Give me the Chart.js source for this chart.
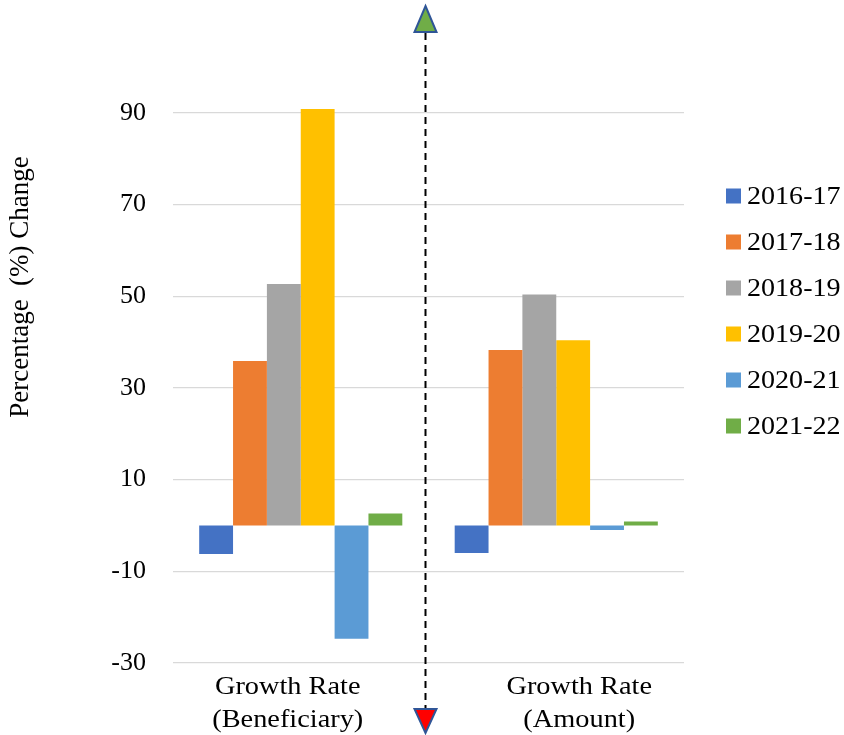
<!DOCTYPE html>
<html>
<head>
<meta charset="utf-8">
<script src="https://cdn.jsdelivr.net/npm/chart.js@4"></script>
<style>
  body { margin: 0; background: #fff; }
  #wrap { position: relative; width: 844px; height: 735px; }
</style>
</head>
<body>
<div id="wrap"><canvas id="myChart"></canvas></div>
<script>
// values
var categories = [['Growth Rate', '(Beneficiary)'], ['Growth Rate', '(Amount)']];
var years = ['2016-17', '2017-18', '2018-19', '2019-20', '2020-21', '2021-22'];
var v201617 = [-6.2, -6.0];
var v201718 = [35.9, 38.3];
var v201819 = [52.7, 50.4];
var v201920 = [90.9, 40.4];
var v202021 = [-24.7, -1.0];
var v202122 = [2.6, 0.9];
var yTicks = [-30, -10, 10, 30, 50, 70, 90];

var colors = ['#4472C4', '#ED7D31', '#A5A5A5', '#FFC000', '#5B9BD5', '#70AD47'];
var series = [v201617, v201718, v201819, v201920, v202021, v202122];
var serif = "'Liberation Serif', 'Times New Roman', serif";

// text in the original is a little wider than the font, so stretch it a bit
function wideText(c, txt, x, y, sx) {
    c.save();
    c.translate(x, y);
    c.scale(sx, 1);
    c.fillText(txt, 0, 0);
    c.restore();
}

var extras = {
    id: 'extras',
    afterDraw: function(chart) {
        var c = chart.ctx;
        var xs = chart.scales.x;
        var area = chart.chartArea;
        c.save();

        // x category labels (slightly off-centre like the original)
        var offs = [-13, 23];
        c.font = '26px ' + serif;
        c.fillStyle = '#000';
        c.textAlign = 'center';
        c.textBaseline = 'middle';
        categories.forEach(function(lab, i) {
            var x = xs.getPixelForValue(i) + offs[i];
            wideText(c, lab[0], x, area.bottom + 24, 1.09);
            wideText(c, lab[1], x, area.bottom + 57, 1.09);
        });

        // y axis title
        c.save();
        c.font = '27px ' + serif;
        c.translate(21, 287);
        c.rotate(-Math.PI / 2);
        c.fillText('Percentage  (%) Change', 0, 0);
        c.restore();

        // legend
        c.textAlign = 'left';
        chart.data.datasets.forEach(function(ds, i) {
            var y = 196 + i * 46;
            c.fillStyle = ds.backgroundColor;
            c.fillRect(726, y - 7.5, 15, 15);
            c.fillStyle = '#000';
            wideText(c, ds.label, 747, y + 1, 1.08);
        });

        // dashed divider with arrow heads
        var mx = (xs.getPixelForValue(0) + xs.getPixelForValue(1)) / 2 - 3;
        c.strokeStyle = '#000';
        c.lineWidth = 2;
        c.setLineDash([7, 5]);
        c.beginPath();
        c.moveTo(mx, 33);
        c.lineTo(mx, 709);
        c.stroke();
        c.setLineDash([]);

        c.lineWidth = 2;
        c.strokeStyle = '#2F5597';
        c.fillStyle = '#70AD47';
        c.beginPath();
        c.moveTo(mx, 6);
        c.lineTo(mx + 11, 32);
        c.lineTo(mx - 11, 32);
        c.closePath();
        c.fill();
        c.stroke();

        c.fillStyle = '#FF0000';
        c.beginPath();
        c.moveTo(mx - 11, 709);
        c.lineTo(mx + 11, 709);
        c.lineTo(mx, 733);
        c.closePath();
        c.fill();
        c.stroke();

        c.restore();
    }
};

document.addEventListener('DOMContentLoaded', function() {
    var ctx = document.getElementById('myChart').getContext('2d');

    var myChart = new Chart(ctx, {
        type: 'bar',
        data: {
            labels: categories,
            datasets: years.map(function(y, i) {
                return {
                    label: y,
                    data: series[i],
                    backgroundColor: colors[i],
                    borderWidth: 0,
                    barPercentage: 1.0,
                    categoryPercentage: 0.795,
                    clip: false
                };
            })
        },
        options: {
            responsive: true,
            maintainAspectRatio: false,
            animation: false,
            layout: { padding: { top: 113, right: 160, left: 0, bottom: 0 } },
            plugins: {
                legend: { display: false },
                tooltip: { enabled: false }
            },
            scales: {
                x: {
                    grid: { display: false },
                    border: { display: false },
                    ticks: { display: false },
                    afterFit: function(s) { s.height = 72; }
                },
                y: {
                    min: -30,
                    max: 90,
                    afterBuildTicks: function(s) {
                        s.ticks = yTicks.map(function(v) { return { value: v }; });
                    },
                    grid: { color: '#D9D9D9', lineWidth: 1.3, drawTicks: false },
                    border: { display: false },
                    ticks: {
                        color: '#000',
                        padding: 27,
                        font: { family: serif, size: 26 }
                    },
                    afterFit: function(s) { s.width = 173; }
                }
            }
        },
        plugins: [extras]
    });
});
</script>
</body>
</html>
